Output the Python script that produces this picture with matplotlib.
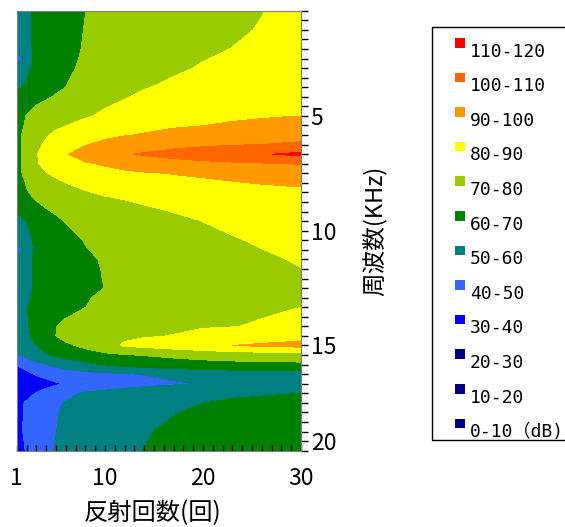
import numpy as np
import matplotlib.pyplot as plt
from matplotlib.patches import Rectangle

plt.rcParams['font.family'] = ['Noto Sans CJK JP', 'DejaVu Sans']

# reflection count (x) and frequency bin index (y, 0 = top)
reflections = [1, 2, 3, 4, 5, 6, 8, 10, 12, 14, 17, 20, 23, 26, 28, 30]
freq_bins = [0, 2, 4, 5, 6, 8, 9, 10, 11, 12, 13, 14, 15, 16, 17, 18, 19, 20, 21, 22,
             24, 25, 26, 27, 28, 29, 30, 31, 32, 33, 34, 35, 36, 37, 38, 39, 40, 41, 42, 44, 46]
freq_tick_bins = [11, 23, 35, 45]
freq_tick_labels = ['5', '10', '15', '20']
refl_ticks = [1, 10, 20, 30]

# sound level (dB), one row per frequency bin
level_db = np.array([
    [55, 58, 62, 64, 65.5, 67, 69.9, 71.5, 73, 74.5, 76, 77, 78.2, 79.8, 81, 82],
    [55, 58, 62, 64, 65.5, 67, 70.3, 72, 73.5, 75, 76.5, 77.8, 79, 80.4, 81.5, 82.5],
    [54, 58, 61.5, 64, 66, 67.5, 70.7, 72.5, 74, 75.5, 77.3, 78.8, 80.1, 81.2, 82, 83],
    [39, 57, 61.5, 64, 66, 68, 71, 73, 74.5, 76, 78, 79.7, 81, 82, 82.7, 83.5],
    [55, 58, 62, 64.5, 66.5, 68.5, 71.5, 73.5, 75, 76.5, 78.8, 80.6, 82, 83, 83.8, 84.5],
    [59, 61, 63, 65.5, 67.5, 70, 73, 75, 77.5, 79.5, 81.5, 83, 84, 85, 85.7, 86.5],
    [62, 64, 66, 68.5, 71, 73, 76, 78, 79.4, 81.5, 83.5, 85, 86, 87, 87.7, 88.3],
    [64, 67, 70.5, 73, 75, 76.5, 78.5, 79.5, 81.5, 83, 85, 86.5, 87.5, 88.3, 88.8, 89.3],
    [66, 70.3, 73.5, 75.5, 77, 78, 79, 81.5, 83, 84.5, 86.3, 87.6, 88.6, 89.3, 89.7, 89.95],
    [67, 71, 74.5, 76.5, 78.5, 79.8, 83, 85, 86.5, 87.8, 89.2, 89.9, 91, 91.8, 92.2, 92.6],
    [67, 73, 77, 79.3, 81.5, 83.5, 86, 88, 89.5, 90.6, 92, 93.2, 94.3, 95.3, 95.9, 96.5],
    [67, 73, 78.5, 81, 83.5, 86, 89.5, 92.3, 94.5, 96, 97.5, 98.5, 99.4, 100.1, 100.8, 101.5],
    [67, 73, 79.5, 83, 86.5, 89, 95, 97.5, 99.3, 100.8, 103, 105, 107, 109.2, 110.6, 112],
    [67, 73, 79.2, 82, 84.5, 86.5, 88.8, 91, 93.5, 95, 96.5, 97.6, 98.5, 99.2, 99.8, 100.5],
    [67, 72.5, 77.5, 79.6, 81.5, 83, 85.5, 87, 88.2, 89.2, 90.3, 91, 91.8, 92.6, 93.1, 93.5],
    [66, 70.5, 74, 76.5, 78.2, 80, 82.5, 84.3, 85.6, 86.6, 87.8, 88.8, 89.6, 90.3, 90.7, 91],
    [64, 69.3, 72.5, 74.5, 75.8, 77, 79.3, 81.3, 82.3, 83.5, 85, 86.3, 87.2, 87.9, 88.3, 88.6],
    [62, 66, 69.6, 72, 73.5, 74.5, 76.3, 77.8, 79.3, 80.8, 82.5, 84, 85, 85.8, 86.2, 86.5],
    [60.5, 63.5, 66.5, 69, 71, 72.3, 74.3, 75.8, 77, 78.2, 80.2, 82, 83.2, 84, 84.4, 84.7],
    [57, 60, 63, 65.5, 68, 70.5, 72.8, 74.3, 75.5, 76.6, 78.4, 80.05, 81.4, 82.3, 82.7, 83],
    [56, 58.5, 61, 63, 65, 66.5, 70.5, 72.5, 74, 75.2, 76.8, 78.2, 79.5, 80.7, 81.3, 81.8],
    [39, 57.5, 61, 63, 64.8, 66.2, 69.5, 72, 73.5, 74.7, 76.3, 77.6, 78.8, 79.9, 80.6, 81.2],
    [55, 58.5, 61, 63, 64.5, 65.8, 68.2, 71, 72.8, 74, 75.6, 76.8, 77.9, 79, 79.8, 80.5],
    [56, 58.5, 61, 63, 64.3, 65.5, 67.8, 70.6, 72.5, 73.6, 75, 76.2, 77.2, 78.2, 79, 79.9],
    [56, 58.5, 61, 63, 64.2, 65.3, 67.5, 70.4, 72.2, 73.3, 74.5, 75.5, 76.3, 77, 77.4, 77.8],
    [56, 58.5, 61, 63, 64.2, 65.3, 67.5, 70.1, 72.2, 73.3, 74.5, 75.4, 76.2, 77, 77.6, 78.2],
    [56, 58.8, 61.2, 63.5, 65, 66.5, 69.3, 71.5, 73, 74.3, 75.7, 76.8, 77.7, 78.5, 79.1, 79.7],
    [57, 59.7, 62, 64, 65.8, 67.3, 69.9, 72.3, 73.8, 75, 76.5, 77.6, 78.5, 79.2, 79.6, 80.0],
    [57, 59.6, 62, 64.5, 67, 69.5, 72.5, 74.3, 75.5, 76.5, 77.6, 78.5, 79.3, 79.85, 80.3, 80.8],
    [57, 59.4, 62, 65.5, 69.8, 72.5, 75, 76.5, 77.5, 78.2, 79, 79.6, 79.8, 80.6, 81, 81.5],
    [57, 59, 61.5, 65, 70, 73, 75.5, 77, 78.5, 79.4, 80.2, 81.5, 83, 84.5, 85.5, 86.5],
    [56, 58.5, 60, 63, 66, 68.2, 72, 76.5, 81, 82.5, 84.8, 87, 90, 91.5, 92.3, 93],
    [49, 52, 55, 59, 61.5, 63, 66, 68, 69.4, 70.4, 72, 73.5, 74.5, 75, 75.3, 75.5],
    [41, 45, 48, 49.6, 52, 54.5, 58, 60.5, 62.5, 64, 65.5, 66.5, 67.2, 67.6, 67.8, 68],
    [33, 37, 41, 43, 44.5, 45.5, 47, 48, 49.2, 50.3, 52, 53.5, 54.5, 55, 55.3, 55.5],
    [32, 33.5, 35, 37, 39, 40.5, 43, 45, 46.5, 47.5, 49, 50.5, 52, 53, 53.5, 54],
    [34, 37, 40.5, 43, 45, 47.5, 51.2, 52.5, 54, 55.3, 56.5, 57.5, 58.3, 59, 59.5, 60],
    [37, 41, 44, 46.5, 48.5, 50.5, 53, 54.5, 55.8, 56.8, 58.3, 59.9, 61.5, 62.5, 63, 63.5],
    [36, 42, 45, 47.5, 49.3, 51.3, 53.5, 55, 56.3, 57.5, 59.6, 61.5, 63, 64, 64.5, 65],
    [36, 42.5, 45.5, 48, 49.9, 51.5, 54, 55.8, 57.5, 59.3, 61.5, 63, 64.2, 65, 65.5, 66],
    [25, 42, 45.5, 48.5, 50.4, 52, 54.5, 56.5, 58.5, 60.1, 62, 63.5, 64.5, 65.3, 65.7, 66],
])

levels = [0, 10, 20, 30, 40, 50, 60, 70, 80, 90, 100, 110, 120]
band_colors = ['#000080', '#000080', '#000080', '#0000FF', '#3366FF', '#008080',
               '#008000', '#99CC00', '#FFFF00', '#FF9900', '#FF6600', '#FF0000']
band_labels = ['0-10（dB)', '10-20', '20-30', '30-40', '40-50', '50-60',
               '60-70', '70-80', '80-90', '90-100', '100-110', '110-120']

W, H = 565, 527
fig = plt.figure(figsize=(W / 100, H / 100), dpi=100)
ax = fig.add_axes([16.7 / W, 1 - 450.7 / H, (300.9 - 16.7) / W, 440 / H])

ax.contourf(reflections, freq_bins, level_db, levels=levels, colors=band_colors)

ax.set_xlim(1, 30)
ax.set_ylim(46, 0)

# x axis: small inward ticks at every reflection
ax.set_xticks(refl_ticks)
ax.set_xticklabels([str(t) for t in refl_ticks])
ax.set_xticks(range(1, 31), minor=True)
ax.tick_params(axis='x', which='both', direction='in', length=4, width=1,
               color='black', labelsize=16.5, pad=12)

# y axis on the right
ax.yaxis.tick_right()
ax.set_yticks(freq_tick_bins)
ax.set_yticklabels(freq_tick_labels)
ax.set_yticks(range(0, 47), minor=True)
ax.tick_params(axis='y', which='both', direction='out', length=5, width=1,
               color='black', labelsize=16.5, pad=2)

for s in ax.spines.values():
    s.set_color('#7f7f7f')

fig.text(153 / W, 1 - 526 / H, '反射回数(回)', fontsize=17.5, ha='center', va='bottom')
fig.text(375 / W, 1 - 231 / H, '周波数(KHz)', fontsize=17, ha='center', va='center',
         rotation=90)

# legend box (runs off the right edge like the original)
fig.add_artist(Rectangle((431.7 / W, 1 - 440 / H), 150 / W, 413 / H, fill=False,
                         edgecolor='black', lw=1, transform=fig.transFigure))
for i, (lab, col) in enumerate(zip(band_labels[::-1], band_colors[::-1])):
    yc = 50 + i * 34.6
    fig.add_artist(Rectangle((455 / W, 1 - (yc - 2.5) / H), 10 / W, 9.5 / H,
                             facecolor=col, edgecolor='none', transform=fig.transFigure))
    fig.text(470 / W, 1 - (yc + 6.6) / H, lab, fontsize=13, ha='left', va='baseline',
             family=['DejaVu Sans Mono', 'Noto Sans CJK JP'])

fig.savefig('out.png', dpi=100)
